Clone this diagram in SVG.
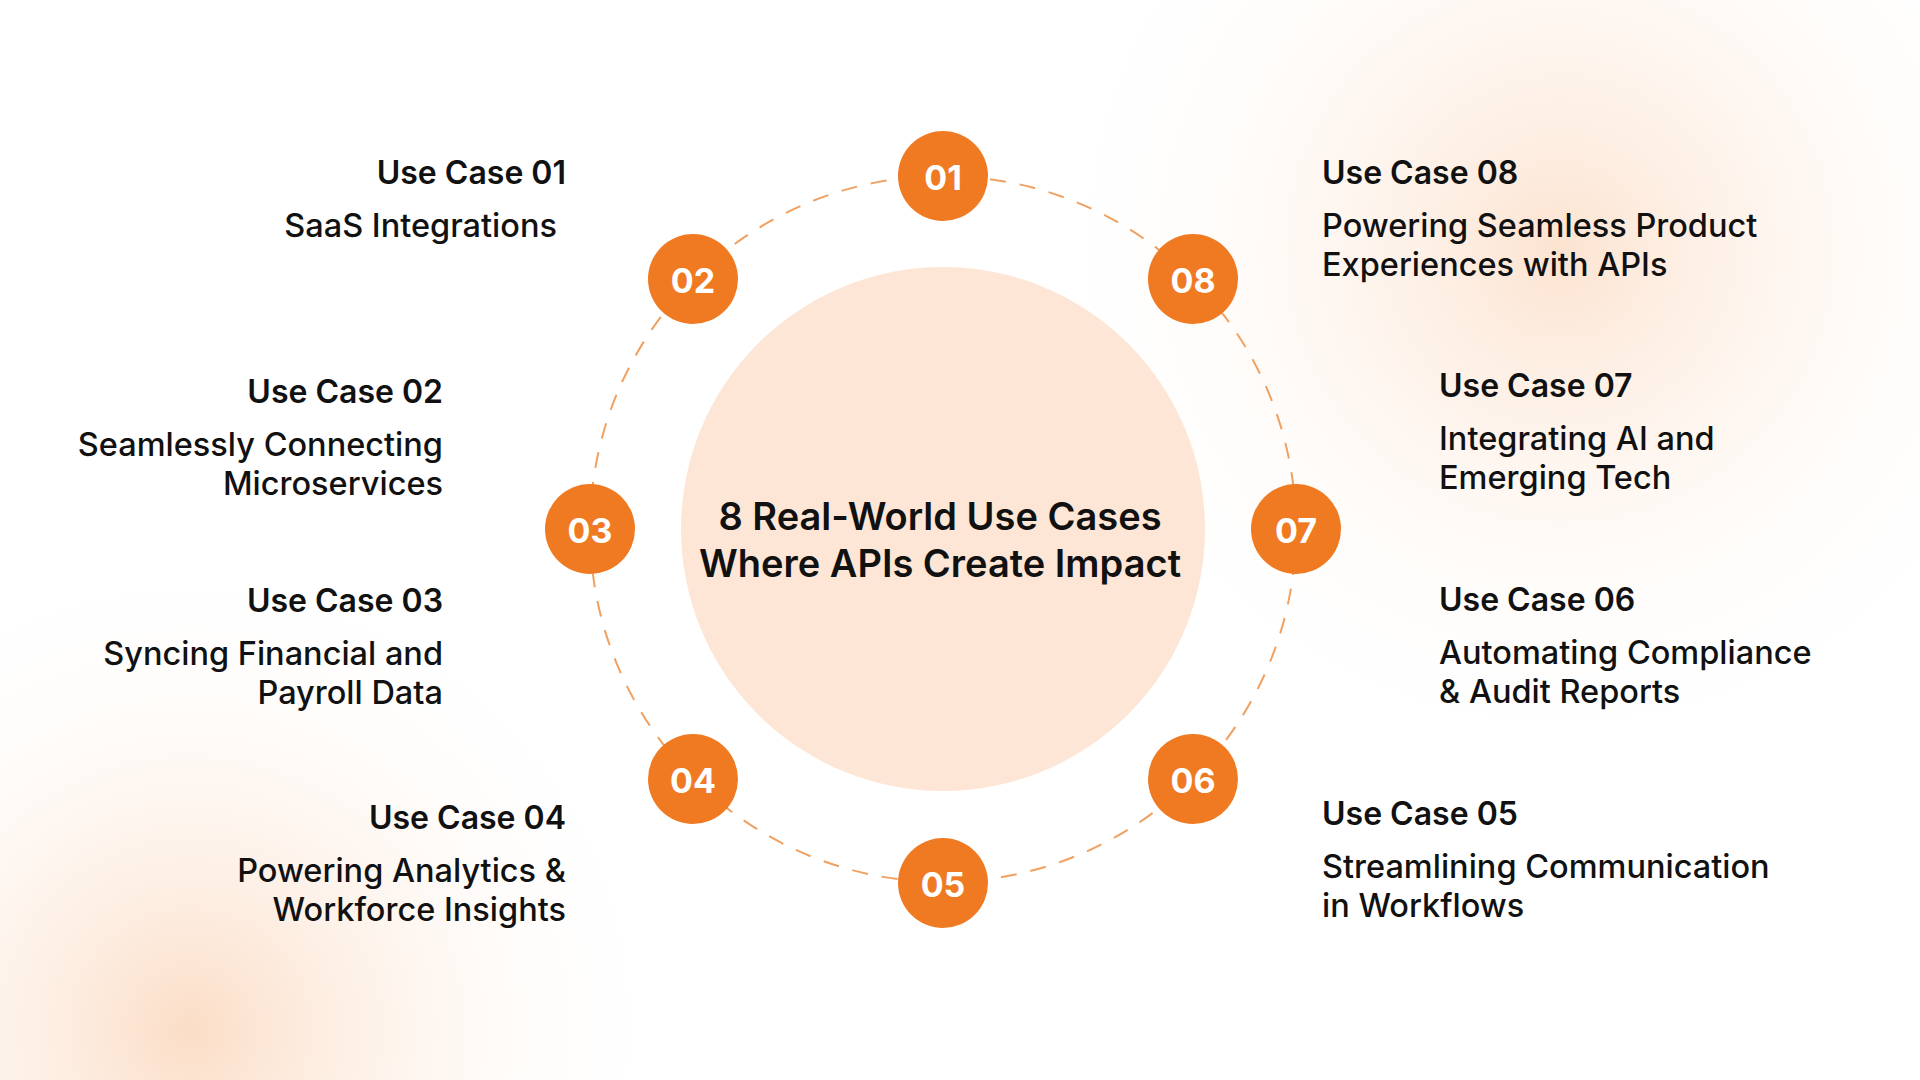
<svg xmlns="http://www.w3.org/2000/svg" width="1920" height="1080" viewBox="0 0 1920 1080">
<defs>
<radialGradient id="gTR" cx="1560" cy="250" r="520" gradientUnits="userSpaceOnUse"><stop offset="0" stop-color="#FCE3D0"/><stop offset="1" stop-color="#FFFFFF" stop-opacity="0"/></radialGradient>
<radialGradient id="gBL" cx="190" cy="1030" r="480" gradientUnits="userSpaceOnUse"><stop offset="0" stop-color="#FBDDC6"/><stop offset="1" stop-color="#FFFFFF" stop-opacity="0"/></radialGradient>
<style>
.n{fill:#F07A22}
.nt{font-family:Inter,"Noto Sans",sans-serif;font-weight:700;font-size:34px;fill:#fff;text-anchor:middle;dominant-baseline:central}
.h{font-family:Inter,"Noto Sans",sans-serif;font-weight:600;font-size:32px;fill:#111}
.b{font-family:Inter,"Noto Sans",sans-serif;font-weight:500;font-size:32.5px;fill:#111}
.r{text-anchor:end}
.t{font-family:Inter,"Noto Sans",sans-serif;font-weight:600;font-size:38px;fill:#111;text-anchor:middle}
</style>
</defs>
<rect width="1920" height="1080" fill="#FFFFFF"/>
<rect width="1920" height="1080" fill="url(#gTR)"/>
<rect width="1920" height="1080" fill="url(#gBL)"/>
<g id="connectors"><circle cx="943" cy="529" r="353" fill="none" stroke="#F0A060" stroke-width="2" stroke-dasharray="16 14"/></g>
<g id="center"><circle cx="943" cy="529" r="262" fill="#FDE6D6"/>
<text class="t" x="940" y="530">8 Real-World Use Cases</text><text class="t" x="940" y="577">Where APIs Create Impact</text></g>
<g id="n01"><circle class="n" cx="943" cy="176" r="45"/><text class="nt" x="943" y="177">01</text></g>
<g id="n02"><circle class="n" cx="693" cy="279" r="45"/><text class="nt" x="693" y="280">02</text></g>
<g id="n03"><circle class="n" cx="590" cy="529" r="45"/><text class="nt" x="590" y="530">03</text></g>
<g id="n04"><circle class="n" cx="693" cy="779" r="45"/><text class="nt" x="693" y="780">04</text></g>
<g id="n05"><circle class="n" cx="943" cy="883" r="45"/><text class="nt" x="943" y="884">05</text></g>
<g id="n06"><circle class="n" cx="1193" cy="779" r="45"/><text class="nt" x="1193" y="780">06</text></g>
<g id="n07"><circle class="n" cx="1296" cy="529" r="45"/><text class="nt" x="1296" y="530">07</text></g>
<g id="n08"><circle class="n" cx="1193" cy="279" r="45"/><text class="nt" x="1193" y="280">08</text></g>
<g id="uc01"><text class="h r" x="566" y="184">Use Case 01</text><text class="b r" x="557" y="237">SaaS Integrations</text></g>
<g id="uc02"><text class="h r" x="443" y="403">Use Case 02</text><text class="b r" x="443" y="456">Seamlessly Connecting</text><text class="b r" x="443" y="495">Microservices</text></g>
<g id="uc03"><text class="h r" x="443" y="612">Use Case 03</text><text class="b r" x="443" y="665">Syncing Financial and</text><text class="b r" x="443" y="704">Payroll Data</text></g>
<g id="uc04"><text class="h r" x="566" y="829">Use Case 04</text><text class="b r" x="566" y="882">Powering Analytics &amp;</text><text class="b r" x="566" y="921">Workforce Insights</text></g>
<g id="uc08"><text class="h" x="1322" y="184">Use Case 08</text><text class="b" x="1322" y="237">Powering Seamless Product</text><text class="b" x="1322" y="276">Experiences with APIs</text></g>
<g id="uc07"><text class="h" x="1439" y="397">Use Case 07</text><text class="b" x="1439" y="450">Integrating AI and</text><text class="b" x="1439" y="489">Emerging Tech</text></g>
<g id="uc06"><text class="h" x="1439" y="611">Use Case 06</text><text class="b" x="1439" y="664">Automating Compliance</text><text class="b" x="1439" y="703">&amp; Audit Reports</text></g>
<g id="uc05"><text class="h" x="1322" y="825">Use Case 05</text><text class="b" x="1322" y="878">Streamlining Communication</text><text class="b" x="1322" y="917">in Workflows</text></g>
</svg>
